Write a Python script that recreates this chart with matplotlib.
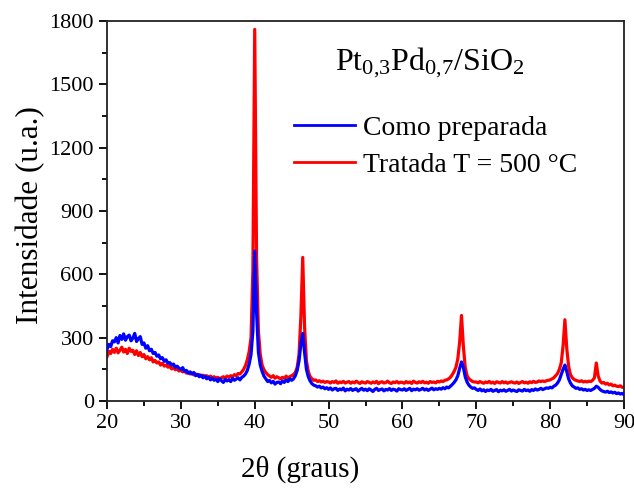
import numpy as np
import matplotlib
matplotlib.use("Agg")
import matplotlib.pyplot as plt

plt.rcParams['font.family'] = ['Liberation Serif', 'DejaVu Serif']
plt.rcParams['mathtext.fontset'] = 'custom'
plt.rcParams['mathtext.rm'] = 'Liberation Serif'
plt.rcParams['mathtext.it'] = 'Liberation Serif:italic'

# 2theta grid (degrees), step 0.25 from 20 to 90
two_theta = np.arange(20.0, 90.0001, 0.25)

como_preparada = [
    # 20 - 24.75
    245, 268, 258, 285, 280, 300, 275, 310, 292, 318, 288, 305, 312, 285, 298, 320, 282, 295, 305, 268,
    # 25 - 29.75
    275, 250, 262, 238, 245, 225, 230, 212, 218, 200, 205, 188, 195, 178, 182, 170, 175, 160, 165, 155,
    # 30 - 34.75
    150, 158, 140, 145, 132, 138, 128, 135, 120, 126, 115, 122, 110, 118, 105, 112, 100, 108, 98, 104,
    # 35 - 39.75
    92, 105, 96, 88, 102, 95, 100, 92, 108, 98, 104, 110, 100, 112, 118, 128, 145, 175, 220, 330,
    # 40 - 44.75
    710, 420, 230, 170, 140, 118, 105, 92, 97, 86, 93, 80, 88, 90, 82, 95, 88, 100, 92, 105,
    # 45 - 49.75
    98, 105, 120, 145, 190, 270, 320, 230, 150, 115, 95, 82, 75, 72, 66, 70, 62, 66, 58, 63,
    # 50 - 54.75
    55, 62, 52, 58, 60, 50, 57, 53, 61, 48, 56, 52, 59, 50, 55, 58, 47, 54, 60, 51,
    # 55 - 59.75
    56, 49, 58, 52, 45, 55, 60, 50, 54, 57, 48, 55, 52, 59, 50, 56, 53, 47, 58, 54,
    # 60 - 64.75
    52, 58, 50, 55, 60, 49, 56, 53, 58, 51, 55, 60, 52, 57, 50, 56, 61, 53, 58, 55,
    # 65 - 69.75
    60, 56, 63, 58, 66, 62, 70, 78, 88, 100, 120, 155, 185, 160, 115, 90, 75, 66, 60, 62,
    # 70 - 74.75
    55, 50, 57, 48, 53, 45, 52, 49, 55, 46, 50, 54, 44, 51, 48, 53, 46, 50, 55, 47,
    # 75 - 79.75
    52, 48, 45, 53, 50, 47, 55, 49, 52, 46, 54, 50, 57, 52, 55, 60, 54, 58, 62, 60,
    # 80 - 84.75
    65, 62, 70, 75, 85, 100, 125, 150, 170, 140, 105, 85, 72, 66, 60, 62, 55, 58, 52, 55,
    # 85 - 89.75
    50, 53, 50, 55, 60, 70, 65, 55, 48, 45, 42, 46, 40, 43, 38, 41, 35, 38, 33, 36,
    # 90
    30,
]

tratada_500 = [
    # 20 - 24.75
    210, 235, 225, 245, 230, 250, 228, 240, 255, 232, 245, 225, 250, 235, 240, 220, 238, 215, 230, 210,
    # 25 - 29.75
    220, 200, 210, 195, 205, 185, 192, 180, 185, 170, 178, 165, 170, 160, 165, 152, 158, 148, 152, 142,
    # 30 - 34.75
    145, 138, 142, 132, 136, 128, 132, 124, 128, 120, 125, 118, 122, 115, 120, 112, 118, 110, 115, 108,
    # 35 - 39.75
    112, 105, 110, 115, 108, 118, 112, 120, 115, 125, 120, 130, 128, 138, 150, 168, 195, 235, 300, 620,
    # 40 - 44.75
    1760, 680, 330, 220, 170, 148, 135, 125, 118, 112, 120, 108, 115, 110, 105, 112, 108, 118, 110, 115,
    # 45 - 49.75
    120, 125, 135, 160, 220, 400, 680, 350, 190, 140, 115, 105, 98, 100, 92, 96, 90, 94, 88, 92,
    # 50 - 54.75
    90, 85, 92, 88, 95, 84, 90, 87, 93, 85, 89, 92, 84, 90, 86, 94, 88, 83, 91, 87,
    # 55 - 59.75
    85, 92, 88, 84, 90, 86, 93, 82, 89, 91, 85, 88, 94, 86, 83, 90, 87, 92, 85, 89,
    # 60 - 64.75
    88, 84, 92, 86, 90, 83, 94, 88, 85, 91, 87, 93, 86, 89, 84, 92, 88, 90, 86, 93,
    # 65 - 69.75
    90, 95, 92, 98, 100, 105, 112, 125, 140, 160, 200, 280, 405, 260, 160, 120, 105, 98, 92, 90,
    # 70 - 74.75
    90, 86, 92, 88, 84, 90, 87, 93, 85, 89, 83, 91, 88, 85, 92, 86, 90, 84, 88, 91,
    # 75 - 79.75
    87, 85, 90, 83, 88, 92, 86, 89, 84, 91, 87, 93, 88, 90, 95, 92, 95, 92, 96, 98,
    # 80 - 84.75
    100, 105, 110, 120, 130, 150, 180, 260, 385, 250, 165, 125, 110, 102, 98, 95, 92, 96, 90, 93,
    # 85 - 89.75
    90, 94, 92, 98, 110, 180, 120, 95, 85, 88, 80, 84, 76, 80, 72, 75, 70, 68, 72, 65,
    # 90
    65,
]

labels = ["Como preparada", "Tratada T = 500 \u00b0C"]
title_text = r"$\mathrm{Pt_{0{,}3}Pd_{0{,}7}/SiO_2}$"
x_ticks = [20, 30, 40, 50, 60, 70, 80, 90]
y_ticks = [0, 300, 600, 900, 1200, 1500, 1800]

fig = plt.figure(figsize=(6.34, 4.88), dpi=100)
ax = fig.add_axes([0.1688, 0.1783, 0.8154, 0.7787])

l_red, = ax.plot(two_theta, tratada_500, color='#ff0000', lw=2.3, zorder=2)
l_blue, = ax.plot(two_theta, como_preparada, color='#0000ff', lw=2.3, zorder=3)

ax.set_xlim(20, 90)
ax.set_ylim(0, 1800)
ax.set_xticks(x_ticks)
ax.set_yticks(y_ticks)
ax.set_xticks(np.arange(25, 90, 10), minor=True)
ax.set_yticks(np.arange(150, 1800, 300), minor=True)
ax.tick_params(axis='both', which='major', direction='out', length=6, width=1.3,
               labelsize=16, top=False, right=False)
ax.tick_params(axis='both', which='minor', direction='out', length=3.5, width=1.3,
               top=False, right=False)
for s in ax.spines.values():
    s.set_linewidth(1.3)
    s.set_color('#222222')

ax.set_xlabel("2\u03b8 (graus)", fontsize=21)
ax.xaxis.set_label_coords(0.373, -0.145)
ax.set_ylabel("Intensidade (u.a.)", fontsize=22.5)
ax.yaxis.set_label_coords(-0.12, 0.49)

ax.text(0.625, 0.89, title_text, transform=ax.transAxes, fontsize=23,
        ha='center', va='center')

leg = ax.legend([l_blue, l_red], labels, loc='upper left',
                bbox_to_anchor=(0.34, 0.78), frameon=False, fontsize=20,
                handlelength=2.2, handletextpad=0.3, labelspacing=0.4,
                borderaxespad=0.0)
for h in leg.get_lines():
    h.set_linewidth(2.0)

fig.savefig("out.png", dpi=100)
